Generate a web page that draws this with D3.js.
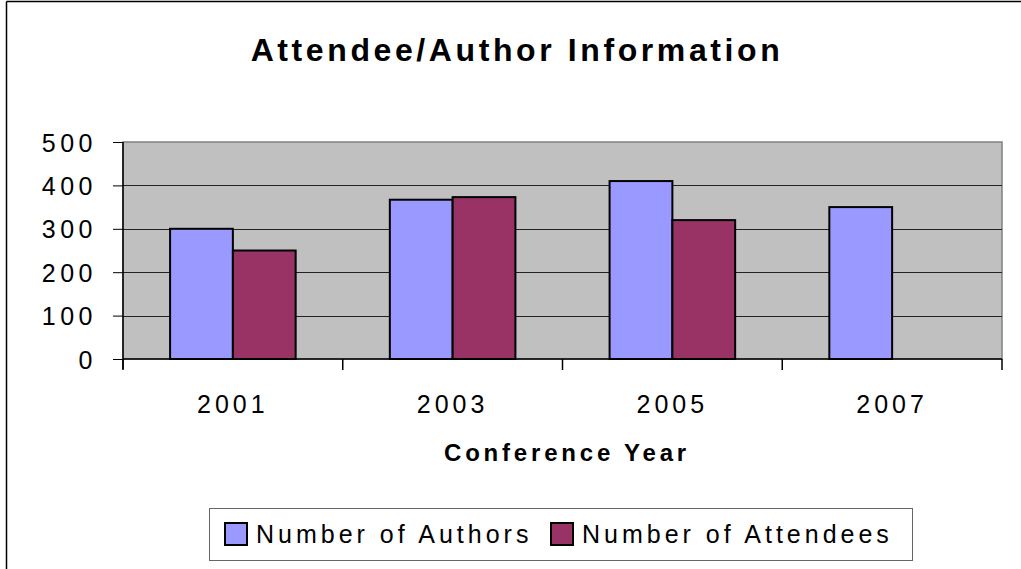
<!DOCTYPE html>
<html><head><meta charset="utf-8">
<script src="https://cdn.jsdelivr.net/npm/d3@7"></script>
<style>body{margin:0;background:#fff}svg{display:block}text{font-family:"Liberation Sans",Arial,sans-serif;fill:#000}</style>
</head><body>
<script>
const years = ["2001","2003","2005","2007"];
const authors = [300, 367, 410, 350];
const attendees = [250, 373, 320, null];
const seriesNames = ["Number of Authors","Number of Attendees"];
const seriesColors = ["#9999FF","#993366"];
const yTicks = [0,100,200,300,400,500];

const W=1021,H=569;
const svg=d3.select("body").append("svg").attr("width",W).attr("height",H);
const L=123,R=1002,T=142,B=359;
const x=d3.scaleBand().domain(years).range([L,R]).paddingInner(0).paddingOuter(0);
const y=d3.scaleLinear().domain([0,500]).range([B,T]);
const barW=x.bandwidth()/3.5;
const xs=d3.scaleBand().domain([0,1]).range([0,2*barW]);

// outer frame
svg.append("line").attr("x1",6.5).attr("x2",W).attr("y1",1.5).attr("y2",1.5).attr("stroke","#000").attr("stroke-width",1.5);
svg.append("line").attr("x1",6.5).attr("x2",6.5).attr("y1",1.5).attr("y2",H).attr("stroke","#000").attr("stroke-width",1.5);

// title
svg.append("text").attr("x",517).attr("y",61).attr("text-anchor","middle")
  .attr("font-size",32).attr("font-weight","bold").attr("letter-spacing",3.6).text("Attendee/Author Information");

// plot bg
svg.append("rect").attr("x",L).attr("y",T).attr("width",R-L).attr("height",B-T).attr("fill","#C0C0C0")
  .attr("stroke","#808080").attr("stroke-width",1.5);

// gridlines
svg.append("g").selectAll("line").data(yTicks.filter(d=>d>0&&d<500)).join("line")
  .attr("x1",L).attr("x2",R).attr("y1",d=>Math.round(y(d))+0.5).attr("y2",d=>Math.round(y(d))+0.5)
  .attr("stroke","#222").attr("stroke-width",1);

// bars
const data=[authors,attendees];
data.forEach((arr,si)=>{
  svg.append("g").selectAll("rect").data(years.map((yr,i)=>({yr,v:arr[i]})).filter(d=>d.v!=null)).join("rect")
    .attr("x",d=>x(d.yr)+x.bandwidth()/2-barW+xs(si))
    .attr("y",d=>y(d.v)).attr("width",barW).attr("height",d=>B-y(d.v))
    .attr("fill",seriesColors[si]).attr("stroke","#000").attr("stroke-width",2);
});

// y axis
const ya=svg.append("g").attr("transform",`translate(${L},0)`)
  .call(d3.axisLeft(y).tickValues(yTicks).tickSize(10).tickPadding(0).tickFormat(d3.format("d")));
ya.select(".domain").attr("stroke","#000").attr("stroke-width",1.5).attr("d",`M0,${T}V${B+10}`);
ya.selectAll(".tick line").attr("stroke","#000");
ya.selectAll(".tick text").attr("x",-26).attr("dy","0.36em").attr("font-size",25).attr("letter-spacing",4.5)
  .attr("font-family","Liberation Sans, Arial, sans-serif").attr("fill","#000");

// x axis
const xa=svg.append("g").attr("transform",`translate(0,${B})`)
  .call(d3.axisBottom(x).tickSize(0).tickPadding(0));
xa.select(".domain").attr("stroke","#000").attr("stroke-width",1.5).attr("d",`M${L},0H${R}`);
xa.selectAll(".tick text").attr("y",54).attr("dy",0).attr("dx",0).attr("font-size",25).attr("letter-spacing",4)
  .attr("font-family","Liberation Sans, Arial, sans-serif").attr("fill","#000");
const bounds=years.map(d=>x(d)).concat([R]);
xa.append("g").selectAll("line").data(bounds).join("line")
  .attr("x1",d=>d).attr("x2",d=>d).attr("y1",0).attr("y2",11).attr("stroke","#000").attr("stroke-width",1.5);

// x title
svg.append("text").attr("x",567).attr("y",461).attr("text-anchor","middle").attr("font-size",24)
  .attr("font-weight","bold").attr("letter-spacing",3.8).text("Conference Year");

// legend
const lg=svg.append("g");
lg.append("rect").attr("x",209.5).attr("y",508.5).attr("width",703).attr("height",52).attr("fill","#fff")
  .attr("stroke","#666").attr("stroke-width",1);
const lx=[225,551];
seriesNames.forEach((n,i)=>{
  lg.append("rect").attr("x",lx[i]).attr("y",523).attr("width",22).attr("height",22)
    .attr("fill",seriesColors[i]).attr("stroke","#000").attr("stroke-width",2);
  lg.append("text").attr("x",lx[i]+31).attr("y",543).attr("font-size",25).attr("letter-spacing",4).text(n);
});
</script>
</body></html>
